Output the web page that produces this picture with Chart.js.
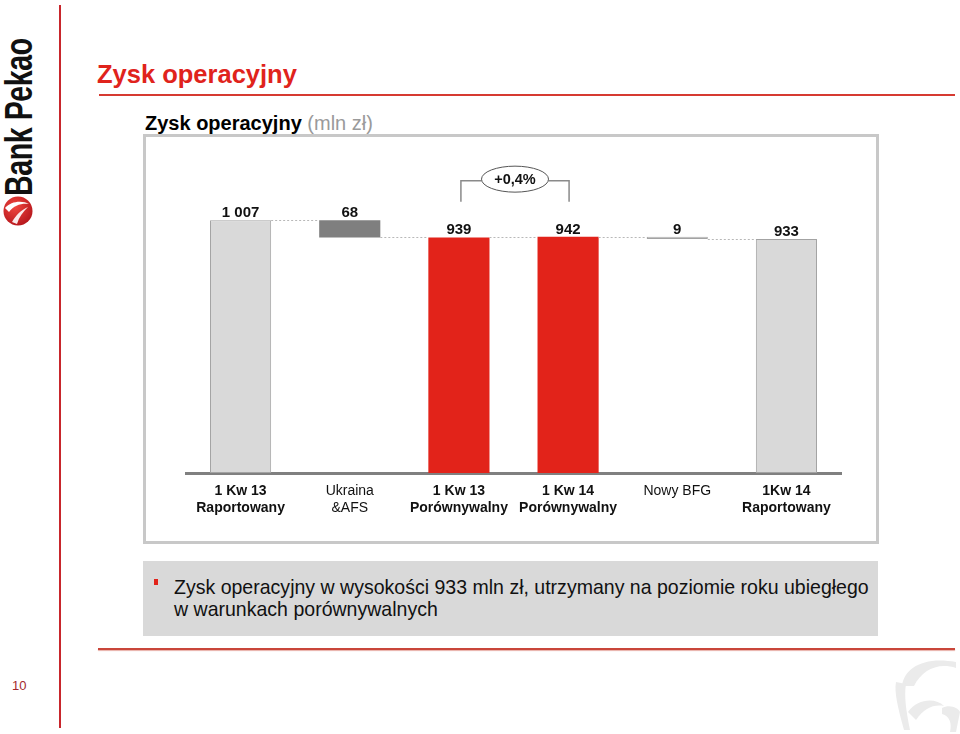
<!doctype html>
<html lang="pl">
<head>
<meta charset="utf-8">
<title>Zysk operacyjny</title>
<script src="https://cdn.jsdelivr.net/npm/chart.js@4.4.1/dist/chart.umd.min.js"></script>
<style>
    body { margin: 0; width: 960px; height: 734px; position: relative; overflow: hidden; background: #fff;
           font-family: 'Liberation Sans', Arial, sans-serif; }
    .abs { position: absolute; }
    #vline { left: 59px; top: 5px; width: 2px; height: 723px; background: #c8262c; }
    #logoText { left: 0; top: 196px; width: 220px; height: 38px; line-height: 38px; font-size: 38px; font-weight: bold;
                color: #111; transform-origin: 0 0; transform: rotate(-90deg) scaleX(0.75); white-space: nowrap; letter-spacing: -0.5px; }
    #title { left: 97px; top: 62px; font-size: 25.5px; line-height: 25.5px; font-weight: bold; color: #e0231c; white-space: nowrap; }
    #titleLine { left: 99px; top: 94px; width: 856px; height: 2px; background: #d63a31; }
    #subtitle { left: 145px; top: 113px; font-size: 20px; line-height: 20px; font-weight: bold; color: #000; white-space: nowrap; }
    #subtitle span { font-weight: normal; color: #9a9a9a; }
    #box { left: 143px; top: 134px; width: 730px; height: 404px; border: 3px solid #c8c8c8; }
    #chartWrap { left: 146px; top: 137px; width: 730px; height: 404px; }
    #note { left: 143px; top: 561px; width: 735px; height: 75px; background: #d9d9d9; }
    #bullet { left: 154px; top: 579px; width: 4px; height: 6px; background: #e2231a; }
    #noteText { left: 174px; top: 576px; font-size: 21px; line-height: 22px; color: #111; white-space: nowrap;
                transform-origin: 0 0; transform: scaleX(0.93); }
    #bottomLine { left: 98px; top: 648px; width: 857px; height: 2px; background: #c9463a; box-shadow: 0 1px 1px #e8b0a8; }
    #pageNo { left: 12px; top: 679px; font-size: 13px; line-height: 13px; color: #a3292e; }
</style>
</head>
<body>
<div id="vline" class="abs"></div>
<div id="logoText" class="abs">Bank Pekao</div>
<svg class="abs" style="left:2px;top:195px" width="32" height="32" viewBox="0 0 32 32">
    <defs>
        <radialGradient id="ball" cx="0.4" cy="0.35" r="0.7">
            <stop offset="0" stop-color="#f0473f"/>
            <stop offset="1" stop-color="#b5161c"/>
        </radialGradient>
    </defs>
    <circle cx="16" cy="16" r="14.5" fill="url(#ball)"/>
    <path d="M3 13 C9 6 20 5 27 9 C20 8 12 10 7 17 Z" fill="#fff"/>
    <path d="M10 27 C14 20 19 15 26 12 C21 17 17 22 15 29 Z" fill="#fff" opacity="0.9"/>
</svg>
<div id="title" class="abs">Zysk operacyjny</div>
<div id="titleLine" class="abs"></div>
<div id="subtitle" class="abs">Zysk operacyjny <span>(mln zł)</span></div>
<div id="box" class="abs"></div>
<div id="chartWrap" class="abs"><canvas id="waterfallChart" width="730" height="404"></canvas></div>
<div id="note" class="abs"></div>
<div id="bullet" class="abs"></div>
<div id="noteText" class="abs">Zysk operacyjny w wysokości 933 mln zł, utrzymany na poziomie roku ubiegłego<br>w warunkach porównywalnych</div>
<div id="bottomLine" class="abs"></div>
<div id="pageNo" class="abs">10</div>
<svg class="abs" style="left:888px;top:652px" width="72" height="82" viewBox="0 0 72 82">
    <path d="M14 34 C16 16 36 4 68 10 L68 16 C50 10 34 18 26 34 Z" fill="#ebebeb"/>
    <path d="M8 30 C6 40 10 56 16 78 L22 78 C18 58 16 44 18 32 Z" fill="#ebebeb"/>
    <path d="M20 60 C30 46 48 46 56 54 C46 52 36 56 28 68 Z" fill="#ebebeb"/>
    <path d="M54 56 C62 52 70 56 72 60 L68 80 L62 80 C64 72 62 64 54 62 Z" fill="#ebebeb"/>
</svg>
<script>
    const categories = [
        ['1 Kw 13', 'Raportowany'],
        ['Ukraina', '&AFS'],
        ['1 Kw 13', 'Porównywalny'],
        ['1 Kw 14', 'Porównywalny'],
        ['Nowy BFG'],
        ['1Kw 14', 'Raportowany']
    ];
    const values = [1007, 68, 939, 942, 9, 933];
    // 'total' bars stand on zero, 'down' bars hang from the previous total
    const kinds = ['total', 'down', 'total', 'total', 'down', 'total'];
    const barColors = ['#d9d9d9', '#7f7f7f', '#e2231a', '#e2231a', '#d9d9d9', '#d9d9d9'];
    const bracketFrom = 2;
    const bracketTo = 3;
    const bracketLabel = '+0,4%';
    const yMax = 1100;

    const FONT = "'Liberation Sans', Arial, sans-serif";

    // build floating ranges and running levels
    let running = 0;
    const ranges = [];
    const levels = [];
    for (let i = 0; i < values.length; i++) {
        if (kinds[i] === 'total') {
            ranges.push([0, values[i]]);
            running = values[i];
        } else {
            ranges.push([running - values[i], running]);
            running = running - values[i];
        }
        levels.push(running);
    }

    function formatValue(v) {
        return String(v).replace(/\B(?=(\d{3})+(?!\d))/g, ' ');
    }

    const waterfallExtras = {
        id: 'waterfallExtras',
        afterDatasetsDraw(chart) {
            const ctx = chart.ctx;
            const meta = chart.getDatasetMeta(0);
            const y = chart.scales.y;

            // dotted connectors
            ctx.save();
            ctx.strokeStyle = '#b8b8b8';
            ctx.lineWidth = 1;
            ctx.setLineDash([2, 2]);
            for (let i = 0; i < meta.data.length - 1; i++) {
                let a = meta.data[i], b = meta.data[i + 1];
                let yy = Math.round(y.getPixelForValue(levels[i])) + 0.5;
                ctx.beginPath();
                ctx.moveTo(a.x + a.width / 2, yy);
                ctx.lineTo(b.x - b.width / 2, yy);
                ctx.stroke();
            }
            ctx.restore();

            // value labels
            ctx.save();
            ctx.font = 'bold 15px ' + FONT;
            ctx.fillStyle = '#111';
            ctx.textAlign = 'center';
            ctx.textBaseline = 'alphabetic';
            meta.data.forEach(function (bar, i) {
                let top = Math.min(bar.y, bar.base);
                ctx.fillText(formatValue(values[i]), bar.x, top - 3);
            });
            ctx.restore();

            // bracket with change label
            let b1 = meta.data[bracketFrom], b2 = meta.data[bracketTo];
            let topY = Math.min(y.getPixelForValue(ranges[bracketFrom][1]), y.getPixelForValue(ranges[bracketTo][1]));
            let yLow = topY - 35, yHigh = topY - 56;
            let x1 = b1.x + 2, x2 = b2.x + 1;
            let cx = (x1 + x2) / 2, rx = 33.5, ry = 13;
            ctx.save();
            ctx.strokeStyle = '#8a8a8a';
            ctx.lineWidth = 1.5;
            ctx.beginPath();
            ctx.moveTo(x1, yLow);
            ctx.lineTo(x1, yHigh);
            ctx.lineTo(cx - rx, yHigh);
            ctx.moveTo(cx + rx, yHigh);
            ctx.lineTo(x2, yHigh);
            ctx.lineTo(x2, yLow);
            ctx.stroke();
            ctx.strokeStyle = '#555';
            ctx.lineWidth = 1;
            ctx.beginPath();
            ctx.ellipse(cx, yHigh - 1.5, rx, ry, 0, 0, Math.PI * 2);
            ctx.fillStyle = '#fff';
            ctx.fill();
            ctx.stroke();
            ctx.font = 'bold 14.5px ' + FONT;
            ctx.fillStyle = '#111';
            ctx.textAlign = 'center';
            ctx.textBaseline = 'middle';
            ctx.fillText(bracketLabel, cx, yHigh - 1);
            ctx.restore();
        }
    };

    var ctx = document.getElementById('waterfallChart').getContext('2d');
    var chart = new Chart(ctx, {
        type: 'bar',
        data: {
            labels: categories,
            datasets: [{
                data: ranges,
                backgroundColor: barColors,
                borderColor: '#a3a3a3',
                borderWidth: kinds.map(function (k, i) { return barColors[i] === '#d9d9d9' ? 1 : 0; }),
                borderSkipped: false,
                barPercentage: 0.56,
                categoryPercentage: 1
            }]
        },
        options: {
            responsive: false,
            animation: false,
            layout: { padding: { top: 60, left: 40, right: 35, bottom: 18 } },
            plugins: { legend: { display: false }, tooltip: { enabled: false } },
            scales: {
                x: {
                    grid: { display: false, drawTicks: false },
                    border: { display: true, color: '#808080', width: 3 },
                    ticks: {
                        color: '#111',
                        padding: 10,
                        maxRotation: 0,
                        autoSkip: false,
                        font: function (c) {
                            return { family: FONT, size: 14, lineHeight: 1.2, weight: kinds[c.index] === 'down' ? 'normal' : 'bold' };
                        }
                    },
                    afterFit: function (scale) { scale.height = 50; }
                },
                y: { display: false, min: 0, max: yMax }
            }
        },
        plugins: [waterfallExtras]
    });
</script>
</body>
</html>
